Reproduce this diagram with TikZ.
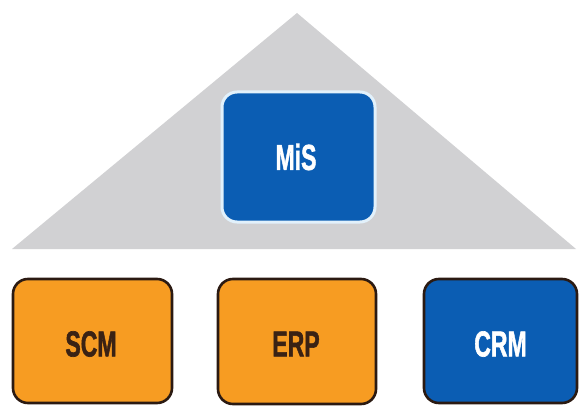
\documentclass[tikz,border=0pt]{standalone}
\usepackage{fontspec}
\setmainfont{Liberation Sans}
\newfontfamily\condfont[FakeBold=1.8]{Liberation Sans Bold}
\definecolor{tri}{HTML}{D1D1D3}
\definecolor{bblue}{HTML}{0B5DB3}
\definecolor{borange}{HTML}{F79C22}
\definecolor{bdark}{HTML}{2B1A12}
\definecolor{tdark}{HTML}{3A2214}
\definecolor{lightedge}{HTML}{E2F1FB}
\begin{document}
\begin{tikzpicture}[x=1pt,y=-1pt,
  box/.style={rounded corners=15pt, line width=2.6pt, draw=bdark},
  lbl/.style={font=\condfont\fontsize{36}{36}\selectfont},
  ]
\useasboundingbox (0,0) rectangle (579,412);
\fill[white] (0,0) rectangle (579,412);
\fill[tri] (12,249) -- (297,13) -- (576,249) -- cycle;
\draw[box, draw=lightedge, line width=3pt, fill=bblue] (222,92) rectangle (375,222);
\node[lbl, text=white] (mis) at (296,157) {\scalebox{0.64}[1]{MiS}};
\draw[box, fill=borange] (13,279) rectangle (172,403);
\node[lbl, text=tdark] (scm) at (91,344) {\scalebox{0.64}[1]{SCM}};
\draw[box, fill=borange] (218,279) rectangle (376,404);
\node[lbl, text=tdark] (erp) at (296,344) {\scalebox{0.64}[1]{ERP}};
\draw[box, fill=bblue] (424,279) rectangle (577,403);
\node[lbl, text=white] (crm) at (500.5,344) {\scalebox{0.64}[1]{CRM}};
\end{tikzpicture}
\end{document}
